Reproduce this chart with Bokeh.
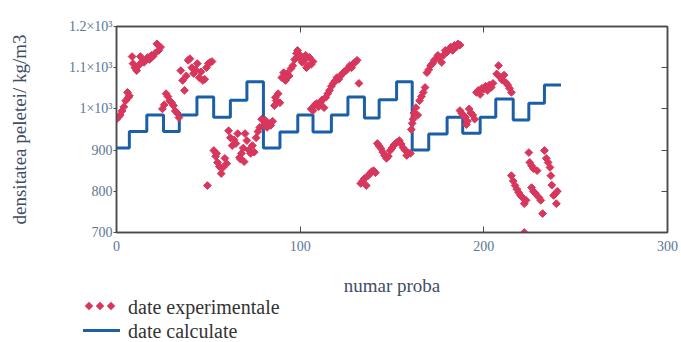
import numpy as np
from bokeh.plotting import figure
from bokeh.layouts import column
from bokeh.models import Range1d, LinearAxis, FixedTicker, Div
from bokeh.embed import file_html
from bokeh.resources import INLINE

# ---- data ----
y_ticks = [700, 800, 900, 1000, 1100, 1200]
y_tick_labels = ["700", "800", "900", "1×10³", "1.1×10³", "1.2×10³"]
x_ticks = [0, 100, 200, 300]

exp_x = [0, 1, 2, 3, 4, 5, 6, 6.5, 7,
         8.5, 9, 10, 11, 12, 13, 14,
         15, 16, 17, 18, 19, 20, 21, 22, 23, 24,
         25, 26, 27, 28, 29, 30, 31, 32, 33, 34,
         35, 36, 37, 38, 39, 40, 41,
         42, 43, 44, 45, 46, 47, 48, 49, 50, 51, 52,
         49.5,
         53, 54, 54.5, 55, 56, 57, 58, 59, 60,
         61, 62, 63, 64, 65, 66, 67, 67.5, 68, 69, 69.5, 70, 71, 72, 73, 74, 75, 76,
         77, 78, 79,
         80, 81, 82, 83, 84, 85,
         86, 86.5, 87, 88, 89,
         90, 91, 92, 93, 94, 95,
         96, 97, 98, 98.6, 99, 100, 101, 102, 103, 103.5, 104, 105, 106, 107,
         106, 107, 108, 109, 110, 111, 112, 113, 114,
         115, 116, 117, 118, 119, 120, 121, 122, 123, 124, 125, 126, 127, 128, 129, 130, 131, 132,
         133, 134, 135, 136, 137, 138, 139, 140, 141,
         142, 143, 144, 145, 146, 147, 148, 149, 150, 151, 152, 153, 154, 155, 156, 157, 158, 159, 160,
         160.5, 161, 161.5, 162, 163, 164, 165, 166, 167, 168,
         169, 170, 171, 172, 173, 174, 175, 176, 177, 178, 179, 180, 181, 182, 183, 184, 185, 186, 187,
         187, 188, 189, 190, 190.5, 191, 192, 193, 194, 195,
         196, 197, 198, 199, 200, 201, 202, 203, 204, 205,
         207, 208, 209, 210, 211, 212, 213, 214, 215,
         215, 216, 217, 218, 219, 220, 221, 222, 223, 222,
         224.5, 225, 226, 227, 229,
         226, 227, 228, 230, 231, 232,
         233, 234, 235, 236, 236.5,
         237, 238, 239, 239.5, 240]
exp_y = [975, 980, 985, 995, 1005, 1020, 1040, 1028, 1032,
         1127, 1110, 1100, 1093, 1105, 1127, 1115,
         1113, 1118, 1125, 1120, 1130, 1128, 1135, 1158, 1142, 1150,
         1000, 1010, 1037, 1030, 1020, 1015, 1008, 995, 990, 979,
         1093, 1069, 1045, 1080, 1118, 1122, 1100,
         1086, 1095, 1110, 1076, 1090, 1069, 1072, 1100, 1110, 1113, 1115,
         814,
         899, 885, 892, 870, 860, 843, 858, 880, 867,
         947, 930, 911, 925, 916, 940, 882, 878, 892, 905, 872, 940, 923, 900, 892, 911, 895, 930,
         945, 955, 975,
         960, 972, 955, 965, 960, 970,
         1008, 1028, 1020, 1037, 1015,
         1076, 1088, 1069, 1086, 1080, 1098,
         1105, 1120, 1135, 1142, 1125, 1130, 1113, 1118, 1130, 1100, 1105, 1125, 1108, 1115,
         1000, 996, 1010, 1013, 1005, 1015, 1022, 1003, 1028,
         1037, 1045, 1055, 1062, 1068, 1076, 1072, 1080, 1086, 1090, 1093, 1098, 1105, 1100, 1110, 1113, 1118, 1062,
         819, 825, 831, 814, 838, 843, 848, 850, 845,
         916, 910, 904, 895, 887, 880, 885, 899, 905, 912, 916, 920, 923, 915, 906, 900, 887, 893, 892,
         950, 965, 975, 990, 1003, 985, 1020, 1030, 1040, 1052,
         1088, 1095, 1105, 1110, 1118, 1122, 1130, 1125, 1113, 1130, 1142, 1138, 1145, 1150, 1142, 1154, 1150, 1158, 1155,
         996, 989, 984, 979, 962, 970, 1000, 990, 985, 975,
         1040, 1045, 1035, 1050, 1048, 1055, 1045, 1058, 1052, 1062,
         1085, 1105, 1076, 1070, 1082, 1064, 1058, 1050, 1040,
         838, 825, 814, 805, 797, 790, 785, 770, 778, 700,
         894, 870, 862, 855, 850,
         809, 800, 795, 785, 778, 746,
         899, 880, 870, 858, 838,
         815, 790, 795, 770, 800]

calc_edges = [0, 7, 16.5, 25.6, 34.2, 43.8, 52.9, 62, 71,
              80, 89, 98.7, 107, 117, 126, 135, 143, 152.5,
              161, 170, 180, 188.5, 198, 206.5, 216, 224.5, 233, 242]
calc_levels = [905, 945, 985, 945, 985, 1029, 980, 1021, 1066,
               905, 944, 985, 944, 985, 1029, 978, 1022, 1066,
               900, 939, 980, 941, 980, 1024, 973, 1014, 1058]

legend_labels = ["date experimentale", "date calculate"]

RED = "#d8365c"
BLUE = "#1b5fa6"
AXIS = "#4a4a4a"
TICKTXT = "#5a7794"
LBLTXT = "#3e4d66"
SERIF = "Liberation Serif"

p = figure(frame_width=551, frame_height=206,
           x_range=Range1d(0, 300), y_range=Range1d(700, 1200),
           output_backend="svg", toolbar_location=None,
           min_border_left=116, min_border_right=14,
           min_border_top=26, min_border_bottom=68,
           background_fill_color="white", border_fill_color="white")
p.grid.visible = False
p.outline_line_color = AXIS
p.outline_line_width = 1.5

p.step(calc_edges, calc_levels + [calc_levels[-1]], mode="after",
       line_color=BLUE, line_width=3)
p.scatter(exp_x, exp_y, marker="square", angle=np.pi / 4, size=5.5,
          fill_color=RED, line_color=RED)

ya = p.yaxis[0]
ya.ticker = FixedTicker(ticks=y_ticks)
ya.major_label_overrides = {t: l for t, l in zip(y_ticks, y_tick_labels)}
ya.major_tick_out = 3
ya.major_tick_in = 0
ya.minor_tick_line_color = None
ya.axis_line_color = AXIS
ya.axis_line_width = 1.5
ya.major_tick_line_color = AXIS
ya.major_label_text_font = SERIF
ya.major_label_text_font_size = "14px"
ya.major_label_text_color = TICKTXT
ya.major_label_standoff = 1
ya.axis_label = "densitatea peletei/ kg/m3"
ya.axis_label_text_font = SERIF
ya.axis_label_text_font_size = "19px"
ya.axis_label_text_font_style = "normal"
ya.axis_label_text_color = LBLTXT
ya.axis_label_standoff = 36

xa = p.xaxis[0]
xa.ticker = FixedTicker(ticks=x_ticks)
xa.major_tick_in = 6
xa.major_tick_out = 0
xa.minor_tick_line_color = None
xa.axis_line_color = AXIS
xa.axis_line_width = 1.5
xa.major_tick_line_color = AXIS
xa.major_label_text_font = SERIF
xa.major_label_text_font_size = "14px"
xa.major_label_text_color = TICKTXT
xa.major_label_standoff = 8
xa.axis_label = "numar proba"
xa.axis_label_text_font = SERIF
xa.axis_label_text_font_size = "19px"
xa.axis_label_text_font_style = "normal"
xa.axis_label_text_color = LBLTXT
xa.axis_label_standoff = 21

top = LinearAxis(ticker=FixedTicker(ticks=x_ticks), major_label_text_font_size="0px",
                 major_label_text_color=None,
                 major_tick_in=6, major_tick_out=0, minor_tick_line_color=None,
                 axis_line_color=AXIS, axis_line_width=1.5, major_tick_line_color=AXIS,
                 major_label_standoff=0)
right = LinearAxis(ticker=FixedTicker(ticks=y_ticks), major_label_text_font_size="0px",
                   major_label_text_color=None,
                   major_tick_in=6, major_tick_out=0, minor_tick_line_color=None,
                   axis_line_color=AXIS, axis_line_width=1.5, major_tick_line_color=AXIS,
                   major_label_standoff=0)
p.add_layout(top, "above")
p.add_layout(right, "right")

# ---- legend below the chart ----
FONT_CSS = "font-family:Liberation Serif, Times New Roman, serif;font-size:20px;line-height:12px;color:#333333;"


def diamond(cx):
    return (f'<span style="position:absolute;left:{cx - 3}px;top:3px;width:6px;height:6px;'
            f'background:{RED};transform:rotate(45deg);"></span>')


def text_span(top_px, label):
    return (f'<span style="position:absolute;left:128px;top:{top_px}px;white-space:nowrap;'
            f'{FONT_CSS}">{label}</span>')


legend_html = (
    '<div style="position:relative;width:681px;height:42px;overflow:visible;">'
    + diamond(89) + diamond(100) + diamond(111)
    + text_span(1, legend_labels[0])
    + f'<span style="position:absolute;left:83px;top:29px;width:37px;height:3px;background:{BLUE};"></span>'
    + text_span(25, legend_labels[1])
    + '</div>'
)
lg = Div(text=legend_html, width=681, height=42, styles={"margin": "0", "padding": "0"})

layout = column(p, lg, spacing=0)
open("out.html", "w").write(file_html(layout, INLINE))
